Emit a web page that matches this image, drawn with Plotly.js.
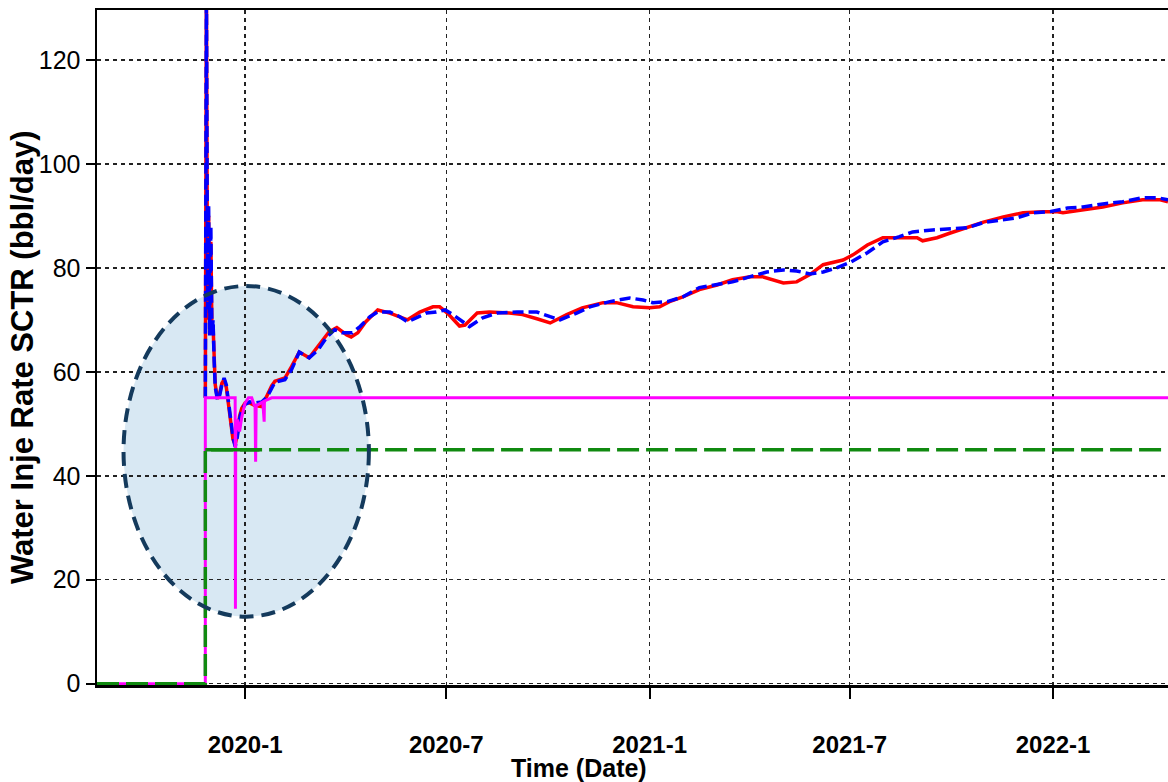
<!DOCTYPE html>
<html>
<head>
<meta charset="utf-8">
<script src="https://cdn.plot.ly/plotly-3.0.1.min.js"></script>
<style>html,body{margin:0;padding:0;background:#fff;}#chart{width:1168px;height:782px;}</style>
</head>
<body>
<div id="chart"></div>
<script>
// Observed (red, solid)
const redDates = ['2019-11-26 00:00','2019-11-26 06:00','2019-11-27','2019-11-28','2019-11-29','2019-11-30','2019-12-01','2019-12-02','2019-12-03','2019-12-04','2019-12-05','2019-12-07','2019-12-09','2019-12-11','2019-12-13','2019-12-15','2019-12-17','2019-12-19','2019-12-21','2019-12-23','2019-12-25','2019-12-27','2019-12-29','2020-01-01','2020-01-05','2020-01-10','2020-01-16','2020-01-21','2020-01-25','2020-01-28','2020-02-06','2020-02-12','2020-02-19','2020-02-28','2020-03-08','2020-03-17','2020-03-24','2020-04-02','2020-04-06','2020-04-12','2020-04-19','2020-04-30','2020-05-11','2020-05-20','2020-05-27','2020-06-07','2020-06-19','2020-06-25','2020-07-02','2020-07-13','2020-07-18','2020-07-29','2020-08-09','2020-08-27','2020-09-08','2020-09-21','2020-10-03','2020-10-18','2020-11-01','2020-11-20','2020-12-02','2020-12-17','2021-01-01','2021-01-10','2021-01-19','2021-01-31','2021-02-15','2021-03-03','2021-03-17','2021-04-02','2021-04-13','2021-05-02','2021-05-14','2021-05-26','2021-06-07','2021-06-25','2021-07-04','2021-07-17','2021-07-31','2021-08-18','2021-08-31','2021-09-05','2021-09-18','2021-09-30','2021-10-15','2021-10-30','2021-11-17','2021-12-05','2021-12-23','2022-01-05','2022-01-10','2022-01-28','2022-02-15','2022-03-05','2022-03-23','2022-04-08','2022-04-15'];
const redValues = [55,135,135,70,90,69,85,68,69,63,57.5,54.8,55.8,57.8,58.5,57,53.5,49.5,47,46,48,51.5,53,54,54,53.5,53.3,55.5,57.3,58.2,58.8,61,63.8,62.7,65.2,67.7,68.5,67.1,66.7,67.5,69.6,71.9,71.3,70.6,70,71.5,72.5,72.5,71.3,68.8,69,71.3,71.5,71.3,71,70.2,69.4,71,72.3,73.3,73.3,72.5,72.3,72.5,73.5,74.4,75.8,76.7,77.7,78.3,78.3,77.1,77.3,78.7,80.6,81.5,82.5,84.4,85.8,85.8,85.8,85.2,85.8,86.7,87.7,88.8,89.8,90.6,90.8,90.8,90.6,91.2,91.7,92.5,93.1,93.1,92.7];

// Simulated (blue, dashed)
const blueDates = ['2019-11-26 00:00','2019-11-26 06:00','2019-11-27','2019-11-28','2019-11-29','2019-11-30','2019-12-01','2019-12-02','2019-12-03','2019-12-04','2019-12-05','2019-12-07','2019-12-09','2019-12-11','2019-12-13','2019-12-15','2019-12-17','2019-12-19','2019-12-21','2019-12-23','2019-12-25','2019-12-27','2019-12-29','2020-01-01','2020-01-05','2020-01-10','2020-01-16','2020-01-21','2020-01-25','2020-01-28','2020-02-06','2020-02-12','2020-02-19','2020-02-28','2020-03-07','2020-03-15','2020-03-22','2020-03-29','2020-04-07','2020-04-14','2020-04-23','2020-04-30','2020-05-11','2020-05-20','2020-05-27','2020-06-04','2020-06-13','2020-06-22','2020-06-30','2020-07-07','2020-07-18','2020-07-22','2020-08-03','2020-08-16','2020-09-03','2020-09-21','2020-10-03','2020-10-12','2020-10-27','2020-11-08','2020-11-26','2020-12-14','2020-12-26','2021-01-04','2021-01-17','2021-01-31','2021-02-15','2021-03-03','2021-03-17','2021-04-02','2021-04-17','2021-05-02','2021-05-14','2021-05-26','2021-06-07','2021-06-19','2021-07-01','2021-07-17','2021-07-31','2021-08-15','2021-08-27','2021-09-14','2021-09-30','2021-10-15','2021-10-30','2021-11-14','2021-11-29','2021-12-14','2021-12-29','2022-01-14','2022-01-28','2022-02-15','2022-03-05','2022-03-23','2022-04-05','2022-04-15'];
const blueValues = [55,135,135,72,92,67,88,67,70,62,57,54.6,55.5,57.5,58.8,57.5,54,50,47.5,45.6,47.5,51,52.7,53.7,54.2,54,54.2,55.2,57,58,58.5,60.4,63.8,62.7,64.2,66.7,68.1,67.5,67.5,68.7,70.6,71.5,71.5,70.6,69.6,70.4,71.3,71.5,71.9,71,69.4,68.7,70.4,71.3,71.5,71.5,70.6,70,71.3,72.5,73.5,74.2,73.8,73.3,73.5,74.4,76.2,76.7,77.3,78.3,79.2,79.6,79.4,78.8,79.2,80,81,82.9,85,86,86.9,87.3,87.5,87.7,88.7,89.2,89.6,90.6,90.8,91.5,91.7,92.3,92.7,93.5,93.5,93.1];

// Upper constraint (magenta)
const magentaDates = ['2019-08-20','2019-11-26','2019-11-26','2019-12-23 00:00','2019-12-23 06:00','2019-12-23 12:00','2019-12-25','2019-12-27','2019-12-29','2020-01-01','2020-01-04','2020-01-07','2020-01-09','2020-01-10 00:00','2020-01-10 12:00','2020-01-11','2020-01-17','2020-01-18 06:00','2020-01-18 12:00','2020-01-21','2020-01-25','2022-04-15'];
const magentaValues = [0,0,55,55,14.4,48,50.8,48.5,51.3,54,55,55,53.7,53.5,42.7,53.5,54.2,50.4,54.4,54.6,55,55];

// Lower constraint (green)
const greenDates = ['2019-08-20','2019-11-26','2019-11-26','2022-04-15'];
const greenValues = [0,0,45,45];
const greenSolidDates = ['2019-11-26','2020-01-14'];
const greenSolidValues = [45,45];

// Axis ticks and titles
const xTickVals = ['2020-01-01','2020-07-01','2021-01-01','2021-07-01','2022-01-01'];
const xTickText = ['2020-1','2020-7','2021-1','2021-7','2022-1'];
const xRange = ['2019-08-20','2022-04-15'];
const yRange = [-0.25, 129.6];
const xTitle = 'Time (Date)';
const yTitle = 'Water Inje Rate SCTR (bbl/day)';

// Highlight ellipse
const ellipseX = ['2019-09-13','2020-04-22'];
const ellipseY = [12.9, 76.5];

const FONT = 'Liberation Sans, Arial, sans-serif';

const traces = [
  {x: redDates, y: redValues, type: 'scatter', mode: 'lines', line: {color: '#ff0000', width: 3.5}, hoverinfo: 'skip'},
  {x: blueDates, y: blueValues, type: 'scatter', mode: 'lines', line: {color: '#0000ff', width: 3.5, dash: '11px,5px'}, hoverinfo: 'skip'},
  {x: magentaDates, y: magentaValues, type: 'scatter', mode: 'lines', line: {color: '#ff00ff', width: 3}, hoverinfo: 'skip'},
  {x: greenSolidDates, y: greenSolidValues, type: 'scatter', mode: 'lines', line: {color: '#108a10', width: 3.5}, hoverinfo: 'skip'},
  {x: greenDates, y: greenValues, type: 'scatter', mode: 'lines', line: {color: '#108a10', width: 3.5, dash: '22px,7px'}, hoverinfo: 'skip'}
];

const layout = {
  width: 1168, height: 782,
  margin: {l: 97, r: 0, t: 10, b: 97, pad: 0},
  paper_bgcolor: '#ffffff', plot_bgcolor: '#ffffff',
  showlegend: false,
  font: {family: FONT, color: '#000'},
  xaxis: {
    type: 'date', range: xRange, tickvals: xTickVals, ticktext: xTickText,
    showgrid: true, gridcolor: '#222', gridwidth: 1.5, griddash: '4px,4px',
    zeroline: false, showline: true, linecolor: '#000', linewidth: 2.5, mirror: true,
    ticks: 'outside', ticklen: 11, tickwidth: 2, tickcolor: '#000',
    ticklabelstandoff: 26,
    tickfont: {family: FONT, size: 24, color: '#000', weight: 'bold'},
    automargin: false, layer: 'below traces', fixedrange: true
  },
  yaxis: {
    range: yRange, tick0: 0, dtick: 20,
    showgrid: true, gridcolor: '#222', gridwidth: 1.5, griddash: '4px,4px',
    zeroline: false, showline: true, linecolor: '#000', linewidth: 2.5,
    ticks: 'outside', ticklen: 9, tickwidth: 2, tickcolor: '#000',
    tickfont: {family: FONT, size: 25, color: '#000'},
    automargin: false, layer: 'below traces', fixedrange: true
  },
  annotations: [
    {text: xTitle, xref: 'paper', yref: 'paper', x: 0.45, y: -0.123, xanchor: 'center', yanchor: 'middle',
     showarrow: false, font: {family: FONT, size: 25, color: '#000', weight: 'bold'}},
    {text: yTitle, xref: 'paper', yref: 'paper', x: -0.069, y: 0.486, xanchor: 'center', yanchor: 'middle',
     textangle: -90, showarrow: false, font: {family: FONT, size: 31, color: '#000', weight: 'bold'}}
  ],
  shapes: [
    {type: 'circle', xref: 'x', yref: 'y', x0: ellipseX[0], x1: ellipseX[1], y0: ellipseY[0], y1: ellipseY[1],
     fillcolor: '#d8e8f3', line: {width: 0}, layer: 'below'},
    {type: 'circle', xref: 'x', yref: 'y', x0: ellipseX[0], x1: ellipseX[1], y0: ellipseY[0], y1: ellipseY[1],
     fillcolor: 'rgba(0,0,0,0)', line: {color: '#143a5c', width: 4, dash: '14px,8px'}, layer: 'above'}
  ]
};

Plotly.newPlot('chart', traces, layout, {staticPlot: true, displayModeBar: false});
</script>
</body>
</html>
